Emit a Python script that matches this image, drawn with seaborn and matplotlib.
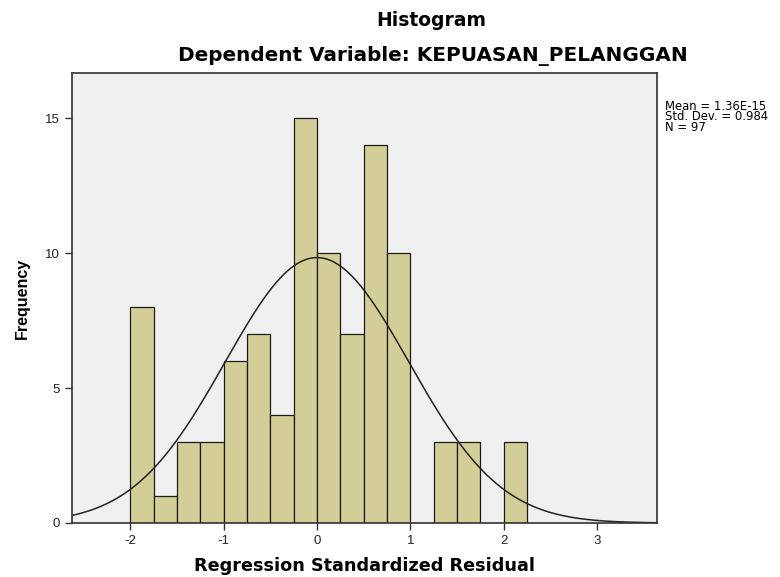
import numpy as np
import matplotlib
matplotlib.use("Agg")
import matplotlib.pyplot as plt
import seaborn as sns

# bin edges and counts
bin_edges = [-2.0, -1.75, -1.5, -1.25, -1.0, -0.75, -0.5, -0.25, 0.0,
             0.25, 0.5, 0.75, 1.0, 1.25, 1.5, 1.75, 2.0, 2.25]
counts = [8, 1, 3, 3, 6, 7, 4, 15, 10, 7, 14, 10, 0, 3, 3, 0, 3]

mean = 1.36e-15
std_dev = 0.984
n = 97

centers = [(a + b) / 2 for a, b in zip(bin_edges[:-1], bin_edges[1:])]
residuals = np.repeat(centers, counts)

sns.set_style("white")
plt.rcParams['font.family'] = ['Liberation Sans', 'DejaVu Sans']
plt.rcParams['axes.unicode_minus'] = False
plt.rcParams['text.color'] = 'black'
plt.rcParams['axes.labelcolor'] = 'black'

fig = plt.figure(figsize=(7.8, 5.77), dpi=100)
ax = fig.add_axes([0.0923, 0.0936, 0.7497, 0.7799])
ax.set_facecolor('#f0f0f0')

sns.histplot(x=residuals, bins=bin_edges, color='#d3ce97', alpha=1,
             edgecolor='#1a1a1a', linewidth=0.9, ax=ax)

# normal curve
xs = np.linspace(-2.625, 3.64, 400)
bw = bin_edges[1] - bin_edges[0]
ys = n * bw / (std_dev * np.sqrt(2 * np.pi)) * np.exp(-0.5 * ((xs - mean) / std_dev) ** 2)
ax.plot(xs, ys, color='#222222', linewidth=1.1)

ax.set_xlim(-2.625, 3.64)
ax.set_ylim(0, 16.67)
ax.set_xticks([-2, -1, 0, 1, 2, 3])
ax.set_yticks([0, 5, 10, 15])
ax.tick_params(axis='both', direction='out', length=5, width=1, color='#333333',
               labelsize=9.5, labelcolor='#222222', bottom=True, left=True)
for s in ax.spines.values():
    s.set_color('#333333')
    s.set_linewidth(1.2)

ax.set_xlabel('Regression Standardized Residual', fontsize=12.7, fontweight='bold',
              labelpad=7, family='DejaVu Sans')
ax.set_ylabel('Frequency', fontsize=11.5, fontweight='bold', labelpad=11)

fig.text(431 / 780, 1 - 20 / 577, 'Histogram', ha='center', va='center',
         fontsize=13.5, fontweight='bold', family='DejaVu Sans')
fig.text(433 / 780, 1 - 56.5 / 577, 'Dependent Variable: KEPUASAN_PELANGGAN',
         ha='center', va='center', fontsize=14.4, fontweight='bold', family='DejaVu Sans')
fig.text(665 / 780, 1 - 100 / 577,
         'Mean = 1.36E-15\nStd. Dev. = 0.984\nN = 97',
         ha='left', va='top', fontsize=8.4, linespacing=0.75, family='DejaVu Sans')

fig.savefig('out.png', dpi=100)
